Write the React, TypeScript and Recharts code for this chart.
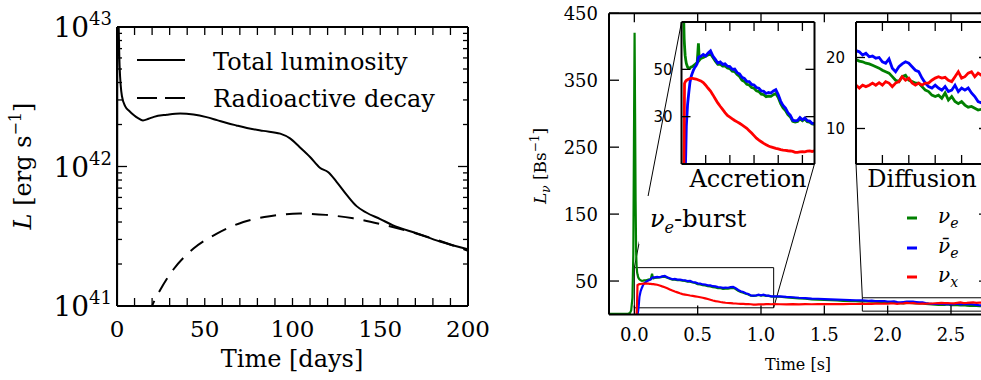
import React from "react";
import { CartesianGrid, Line, LineChart, ReferenceArea, ReferenceLine, XAxis, YAxis } from "recharts";

const SERIF = "'DejaVu Serif', serif";
const SANS = "'DejaVu Sans', sans-serif";
const GREEN = "#008000";
const BLUE = "#0000ff";
const RED = "#ff0000";

// ---- left panel: light curve, luminosity in units of 1e42 erg/s
const lumDays = [0, 0.3, 0.8, 1.5, 2.8, 4.7, 7, 9.5, 12, 14.8, 18, 21, 28.4, 36, 43.6, 51, 57, 62.6, 68, 74, 83.4, 93, 98.6, 104, 110, 115.6, 120.4, 125, 131, 136.5, 142, 150, 157, 171, 184, 200];
const totalLum = [0.01, 30, 13, 5.2, 3.2, 2.7, 2.5, 2.34, 2.22, 2.14, 2.2, 2.27, 2.35, 2.4, 2.36, 2.26, 2.15, 2.05, 1.97, 1.89, 1.8, 1.72, 1.59, 1.38, 1.17, 0.98, 0.91, 0.78, 0.624, 0.52, 0.468, 0.42, 0.38, 0.331, 0.29, 0.255];
const decayDays = [18, 20, 24.6, 32, 43.6, 56.9, 72, 87, 104, 119, 134.6, 150, 171, 200];
const decayLum = [0.085, 0.1, 0.13, 0.182, 0.258, 0.33, 0.4, 0.44, 0.46, 0.45, 0.425, 0.387, 0.33, 0.249];
const dayTicks = [0, 10, 20, 30, 40, 50, 60, 70, 80, 90, 100, 110, 120, 130, 140, 150, 160, 170, 180, 190, 200];
const lumTicks = [0.1, 0.2, 0.3, 0.4, 0.5, 0.6, 0.7, 0.8, 0.9, 1, 2, 3, 4, 5, 6, 7, 8, 9, 10];
const lumMajor = [0.1, 1, 10];
const lumExp = ["41", "42", "43"];

// ---- right panel: neutrino luminosities [B/s]
const tBurst = [-0.2, -0.1, -0.05, -0.035, -0.025, -0.015, -0.008, -0.003, 0.002, 0.006, 0.01, 0.014, 0.018, 0.022, 0.025, 0.03, 0.035, 0.04, 0.05, 0.06, 0.07, 0.08, 0.09, 0.1, 0.11, 0.12, 0.13, 0.14, 0.145, 0.15];
const eBurst = [0.8, 0.8, 1.0, 2, 6, 25, 90, 260, 421, 300, 170, 95, 72, 63, 60, 56, 54, 52.5, 51, 50.4, 50.6, 51, 51.2, 51.6, 52, 52.4, 53, 61, 56, 54];
const ebBurst = [null, null, null, null, null, null, null, null, null, null, null, null, null, null, 0, 5, 14, 26, 35, 40, 44.5, 47, 48.5, 49.8, 50.8, 51.5, 52.5, 55, 55.3, 55.4];
const xBurst = [null, null, null, null, null, null, null, null, null, null, null, null, 0, 20, 44, 44.6, 45, 45.3, 45.6, 45.9, 46.1, 46.2, 46.2, 46.1, 46, 45.9, 45.7, 45.5, 45.4, 45.3];

const tAcc = [0.16, 0.18, 0.2, 0.22, 0.24, 0.26, 0.28, 0.3, 0.32, 0.34, 0.36, 0.38, 0.4, 0.42, 0.44, 0.46, 0.48, 0.5, 0.52, 0.54, 0.56, 0.58, 0.6, 0.62, 0.64, 0.66, 0.68, 0.7, 0.72, 0.74, 0.76, 0.78, 0.8, 0.82, 0.84, 0.86, 0.88, 0.9, 0.92, 0.94, 0.96, 0.98, 1.0, 1.02, 1.04, 1.06, 1.08, 1.1];
const ebAcc = [55.5, 56.3, 55.7, 56.9, 57.8, 55.6, 54.2, 52.7, 53.1, 52.1, 52.3, 51.3, 51.2, 50.0, 50.1, 48.6, 48.1, 46.6, 46.2, 44.9, 44.8, 43.6, 43.4, 42.3, 42.0, 40.9, 40.7, 39.8, 40.2, 40.0, 40.9, 41.4, 39.3, 36.6, 34.7, 33.6, 31.7, 30.6, 28.5, 28.2, 28.4, 29.6, 28.7, 29.5, 28.3, 28.1, 27.2, 27.2];
const eAcc = [54.6, 55.0, 55.5, 56.1, 56.6, 55.0, 53.4, 52.1, 52.2, 51.4, 51.4, 50.6, 50.3, 49.2, 49.0, 47.8, 47.0, 45.4, 44.9, 43.7, 43.4, 42.3, 42.0, 40.9, 40.6, 39.5, 39.3, 38.4, 38.7, 38.6, 39.3, 39.8, 38.1, 35.5, 33.7, 32.6, 30.9, 29.9, 28.0, 27.7, 28.0, 29.1, 28.3, 29.0, 27.9, 27.7, 26.9, 26.8];
const xAcc = [45.1, 44.4, 43.3, 42.0, 40.8, 39.2, 37.5, 35.8, 34.4, 33.1, 31.7, 30.5, 29.8, 29.1, 28.4, 27.8, 27.2, 26.5, 25.8, 25.1, 24.1, 23.1, 22.0, 20.9, 20.1, 19.4, 18.7, 18.1, 17.6, 17.2, 16.9, 16.6, 16.4, 16.1, 15.9, 15.8, 15.6, 15.5, 15.3, 14.9, 14.9, 15.1, 15.2, 15.1, 15.4, 15.5, 15.3, 15.5];

const tMid = [1.15, 1.2, 1.25, 1.3, 1.35, 1.4, 1.45, 1.5, 1.55, 1.6, 1.65, 1.7, 1.75];
const ebMid = [27.0, 26.2, 25.8, 25.0, 24.6, 23.8, 23.5, 23.0, 22.6, 22.3, 22.0, 21.6, 21.3];
const eMid = [26.5, 25.5, 24.8, 24.0, 23.5, 22.7, 22.3, 21.8, 21.3, 21.0, 20.5, 20.2, 19.9];
const xMid = [15.3, 15.1, 15.4, 15.2, 15.5, 15.3, 15.6, 15.4, 15.5, 15.7, 15.5, 15.8, 15.7];

const tDiff = [1.8, 1.825, 1.85, 1.875, 1.9, 1.925, 1.95, 1.975, 2.0, 2.025, 2.05, 2.075, 2.1, 2.125, 2.15, 2.175, 2.2, 2.225, 2.25, 2.275, 2.3, 2.325, 2.35, 2.375, 2.4, 2.425, 2.45, 2.475, 2.5, 2.525, 2.55, 2.575, 2.6, 2.625, 2.65, 2.675, 2.7, 2.725, 2.75, 2.775, 2.8];
const ebDiff = [20.96, 20.8, 20.35, 20.6, 20.1, 20.2, 19.9, 20.0, 19.4, 19.2, 19.8, 18.5, 18.0, 18.7, 19.1, 19.4, 19.2, 18.7, 18.2, 18.0, 17.1, 16.4, 15.9, 15.7, 16.1, 15.7, 15.4, 15.9, 15.2, 15.4, 16.1, 15.2, 15.7, 15.4, 15.7, 15.0, 14.5, 13.8, 13.6, 13.9, 13.5];
const eDiff = [19.7, 19.5, 19.4, 19.2, 19.1, 18.9, 18.7, 18.5, 18.2, 18.0, 17.8, 17.3, 16.8, 16.6, 17.3, 17.5, 16.8, 16.6, 16.4, 16.4, 15.9, 15.4, 15.2, 14.7, 14.5, 14.7, 14.25, 15.0, 14.0, 14.5, 13.8, 13.5, 13.8, 13.3, 13.0, 13.1, 12.85, 12.6, 12.7, 12.4, 12.5];
const xDiff = [16.1, 15.7, 16.1, 15.9, 16.1, 16.4, 16.1, 16.45, 16.1, 16.6, 16.4, 15.9, 16.4, 16.6, 17.3, 16.8, 17.1, 16.4, 16.1, 16.4, 16.1, 16.4, 16.4, 16.8, 17.1, 17.3, 17.1, 17.2, 16.8, 16.6, 17.3, 18.0, 17.1, 17.3, 17.8, 18.0, 17.3, 17.8, 17.5, 17.9, 17.6];

const mainXTicks = [0, 0.5, 1, 1.5, 2, 2.5];
const mainYTicks = [50, 150, 250, 350, 450];
const accXTicks = [0.2, 0.4, 0.6, 0.8, 1.0];
const accYTicks = [30, 50];
const diffXTicks = [2.0, 2.2, 2.4, 2.6];
const diffYTicks = [10, 20];

const timeS = [...tBurst, ...tAcc, ...tMid, ...tDiff];
const nuE = [...eBurst, ...eAcc, ...eMid, ...eDiff];
const nuEBar = [...ebBurst, ...ebAcc, ...ebMid, ...ebDiff];
const nuX = [...xBurst, ...xAcc, ...xMid, ...xDiff];
const nuRows = timeS.map((t, i) => ({ t, e: nuE[i], eb: nuEBar[i], x: nuX[i] }));

const totalRows = lumDays.map((t, i) => ({ t, v: totalLum[i] }));
const decayRows = decayDays.map((t, i) => ({ t, v: decayLum[i] }));

const frame = { stroke: "#000", strokeWidth: 2 };

type Side = "bottom" | "top" | "left" | "right";
interface TickOpts {
  side: Side;
  len: number | ((v: number) => number);
  label?: (v: number) => React.ReactNode;
  gap?: number;
  size?: number;
  font?: string;
}

// ticks point inward, labels sit outside
function tick(o: TickOpts) {
  return (p: any) => {
    const x = Number(p.x);
    const y = Number(p.y);
    const v = p.payload?.value as number;
    const l = typeof o.len === "function" ? o.len(v) : o.len;
    const content = o.label ? o.label(v) : null;
    const size = o.size ?? 18;
    const gap = o.gap ?? 8;
    let seg = [x, y, x, y];
    let text: React.ReactNode = null;
    if (o.side === "bottom") {
      seg = [x, y, x, y - l];
      if (content != null) text = <text x={x} y={y + gap + size * 0.73} textAnchor="middle">{content}</text>;
    } else if (o.side === "top") {
      seg = [x, y, x, y + l];
    } else if (o.side === "left") {
      seg = [x, y, x + l, y];
      if (content != null) text = <text x={x - gap} y={y + size * 0.36} textAnchor="end">{content}</text>;
    } else {
      seg = [x, y, x - l, y];
    }
    return (
      <g>
        <line x1={seg[0]} y1={seg[1]} x2={seg[2]} y2={seg[3]} stroke="#000" strokeWidth={1.3} />
        {text && <g fontFamily={o.font ?? SERIF} fontSize={size} fill="#000">{text}</g>}
      </g>
    );
  };
}

// axes are 1px thick so recharts still renders them; margins are one px short to compensate
const axisBase = { tickSize: 0, tickMargin: 0, interval: 0 as const, tickLine: false, axisLine: frame, allowDataOverflow: true };

function LightCurve() {
  const logLen = (v: number) => (lumMajor.includes(v) ? 10 : 5);
  const logLabel = (v: number) => {
    const i = lumMajor.indexOf(v);
    if (i < 0) return null;
    return (
      <>
        <tspan>10</tspan>
        <tspan dy={-12} fontSize={18}>{lumExp[i]}</tspan>
      </>
    );
  };
  return (
    <LineChart width={500} height={380} margin={{ top: 26, right: 31, bottom: 73, left: 116 }}>
      <XAxis {...axisBase} type="number" dataKey="t" domain={[0, 200]} ticks={dayTicks} height={1}
        tick={tick({ side: "bottom", len: 8, size: 23, gap: 14, label: (v) => (v % 50 === 0 ? String(v) : null) })} />
      <XAxis {...axisBase} xAxisId="top" orientation="top" type="number" dataKey="t" domain={[0, 200]} ticks={dayTicks} height={1}
        tick={tick({ side: "top", len: 8 })} />
      <YAxis {...axisBase} type="number" scale="log" domain={[0.1, 10]} ticks={lumTicks} width={1}
        tick={tick({ side: "left", len: logLen, size: 28, gap: 5, label: logLabel })} />
      <YAxis {...axisBase} yAxisId="right" orientation="right" type="number" scale="log" domain={[0.1, 10]} ticks={lumTicks} width={1}
        tick={tick({ side: "right", len: logLen })} />
      <Line data={totalRows} dataKey="v" type="monotone" stroke="#000" strokeWidth={2} dot={false} activeDot={false} isAnimationActive={false} />
      <Line data={decayRows} dataKey="v" type="monotone" stroke="#000" strokeWidth={2} strokeDasharray="16 10" dot={false} activeDot={false} isAnimationActive={false} />
    </LineChart>
  );
}

function NeutrinoPanel() {
  return (
    <LineChart width={500} height={380} data={nuRows} margin={{ top: 12.3, right: 10, bottom: 64.5, left: 108 }}>
      <XAxis {...axisBase} type="number" dataKey="t" domain={[-0.2, 2.8]} ticks={mainXTicks} height={1}
        tick={tick({ side: "bottom", len: 9, size: 18, gap: 13, label: (v) => v.toFixed(1) })} />
      <XAxis {...axisBase} xAxisId="top" orientation="top" type="number" dataKey="t" domain={[-0.2, 2.8]} ticks={mainXTicks} height={1}
        tick={tick({ side: "top", len: 9 })} />
      <YAxis {...axisBase} type="number" domain={[0, 450]} ticks={mainYTicks} width={1}
        tick={tick({ side: "left", len: 10, size: 18, gap: 11, label: (v) => String(v) })} />
      <YAxis {...axisBase} yAxisId="right" orientation="right" type="number" domain={[0, 450]} ticks={mainYTicks} width={1}
        tick={tick({ side: "right", len: 10 })} />
      <ReferenceArea x1={0} x2={1.1} y1={10} y2={70} fill="none" stroke="#000" strokeWidth={1} />
      <ReferenceArea x1={1.8} x2={2.8} y1={5} y2={25} fill="none" stroke="#000" strokeWidth={1} />
      <ReferenceLine segment={[{ x: 0, y: 70 }, { x: 0.3725, y: 437 }]} stroke="#000" strokeWidth={1} />
      <ReferenceLine segment={[{ x: 1.1, y: 10 }, { x: 1.422, y: 225 }]} stroke="#000" strokeWidth={1} />
      <ReferenceLine segment={[{ x: 1.8, y: 25 }, { x: 1.75, y: 225 }]} stroke="#000" strokeWidth={1} />
      <Line dataKey="e" stroke={GREEN} strokeWidth={2.2} dot={false} activeDot={false} isAnimationActive={false} />
      <Line dataKey="eb" stroke={BLUE} strokeWidth={2.2} dot={false} activeDot={false} isAnimationActive={false} />
      <Line dataKey="x" stroke={RED} strokeWidth={2.2} dot={false} activeDot={false} isAnimationActive={false} />
    </LineChart>
  );
}

interface InsetProps {
  margin: { top: number; right: number; bottom: number; left: number };
  xDomain: [number, number];
  xTicks: number[];
  yDomain: [number, number];
  yTicks: number[];
  gap: number;
}

function Inset({ margin, xDomain, xTicks, yDomain, yTicks, gap }: InsetProps) {
  return (
    <LineChart width={240} height={200} data={nuRows} margin={margin}>
      <CartesianGrid horizontal={false} vertical={false} fill="#fff" fillOpacity={1} />
      <XAxis {...axisBase} type="number" dataKey="t" domain={xDomain} ticks={xTicks} height={1}
        tick={tick({ side: "bottom", len: 9 })} />
      <XAxis {...axisBase} xAxisId="top" orientation="top" type="number" dataKey="t" domain={xDomain} ticks={xTicks} height={1}
        tick={tick({ side: "top", len: 9 })} />
      <YAxis {...axisBase} type="number" domain={yDomain} ticks={yTicks} width={1}
        tick={tick({ side: "left", len: 9, size: 15, gap, font: SANS, label: (v) => String(v) })} />
      <YAxis {...axisBase} yAxisId="right" orientation="right" type="number" domain={yDomain} ticks={yTicks} width={1}
        tick={tick({ side: "right", len: 9 })} />
      <Line dataKey="e" stroke={GREEN} strokeWidth={2.8} dot={false} activeDot={false} isAnimationActive={false} />
      <Line dataKey="eb" stroke={BLUE} strokeWidth={2.8} dot={false} activeDot={false} isAnimationActive={false} />
      <Line dataKey="x" stroke={RED} strokeWidth={2.8} dot={false} activeDot={false} isAnimationActive={false} />
    </LineChart>
  );
}

function Annotations() {
  const legendNu = [
    { y: 218, color: GREEN, nu: "ν", sub: "e" },
    { y: 248, color: BLUE, nu: "ν\u0304", sub: "e" },
    { y: 277, color: RED, nu: "ν", sub: "x" },
  ];
  return (
    <svg width={981} height={380} style={{ position: "absolute", left: 0, top: 0, pointerEvents: "none" }}>
      <g fontFamily={SERIF} fill="#000">
        {/* left legend */}
        <line x1={137} x2={185} y1={60} y2={60} stroke="#000" strokeWidth={2} />
        <line x1={137} x2={185} y1={98} y2={98} stroke="#000" strokeWidth={2} strokeDasharray="20 8" />
        <text x={213} y={70} fontSize={24}>Total luminosity</text>
        <text x={213} y={107} fontSize={24}>Radioactive decay</text>
        {/* left axis titles */}
        <text x={292} y={367} fontSize={24} textAnchor="middle">Time [days]</text>
        <text transform="translate(31,166) rotate(-90)" fontSize={24} textAnchor="middle">
          <tspan fontStyle="italic">L</tspan> [erg s<tspan dy={-10} fontSize={16}>−1</tspan><tspan dy={10}>]</tspan>
        </text>
        {/* right axis titles */}
        <text x={798} y={370} fontSize={16} textAnchor="middle">Time [s]</text>
        <text transform="translate(546,166) rotate(-90)" fontSize={17} textAnchor="middle">
          <tspan fontStyle="italic">L</tspan><tspan fontStyle="italic" fontSize={12} dy={4}>ν</tspan>
          <tspan dy={-4}> [Bs</tspan><tspan dy={-7} fontSize={12}>−1</tspan><tspan dy={7}>]</tspan>
        </text>
        {/* burst annotation */}
        <rect x={639} y={196} width={116} height={48} fill="#fff" />
        <text x={650} y={227} fontSize={24}>
          <tspan fontStyle="italic">ν</tspan><tspan fontStyle="italic" fontSize={16} dy={6}>e</tspan><tspan dy={-6}>-burst</tspan>
        </text>
        <text x={748} y={187} fontSize={24} textAnchor="middle">Accretion</text>
        <text x={922} y={187} fontSize={24} textAnchor="middle">Diffusion</text>
        {/* right legend */}
        {legendNu.map((d) => (
          <g key={d.sub + d.color}>
            <line x1={907} x2={917} y1={d.y} y2={d.y} stroke={d.color} strokeWidth={3} />
            <text x={938} y={d.y + 5} fontSize={20} fontStyle="italic">
              {d.nu}<tspan fontSize={14} dy={5}>{d.sub}</tspan>
            </text>
          </g>
        ))}
      </g>
    </svg>
  );
}

export default function App() {
  return (
    <div style={{ position: "relative", width: 981, height: 380, overflow: "hidden", background: "#fff" }}>
      <style>{"body{margin:0}"}</style>
      <div style={{ position: "absolute", left: 0, top: 0 }}>
        <LightCurve />
      </div>
      <div style={{ position: "absolute", left: 500, top: 0 }}>
        <NeutrinoPanel />
      </div>
      <div style={{ position: "absolute", left: 600, top: 0 }}>
        <Inset margin={{ top: 21, right: 24.5, bottom: 35, left: 80.5 }} xDomain={[0, 1.1]} xTicks={accXTicks}
          yDomain={[10, 70]} yTicks={accYTicks} gap={9} />
      </div>
      <div style={{ position: "absolute", left: 780, top: 0 }}>
        <Inset margin={{ top: 21, right: 31, bottom: 35, left: 75 }} xDomain={[1.8, 2.8]} xTicks={diffXTicks}
          yDomain={[5, 25]} yTicks={diffYTicks} gap={11} />
      </div>
      <Annotations />
    </div>
  );
}
